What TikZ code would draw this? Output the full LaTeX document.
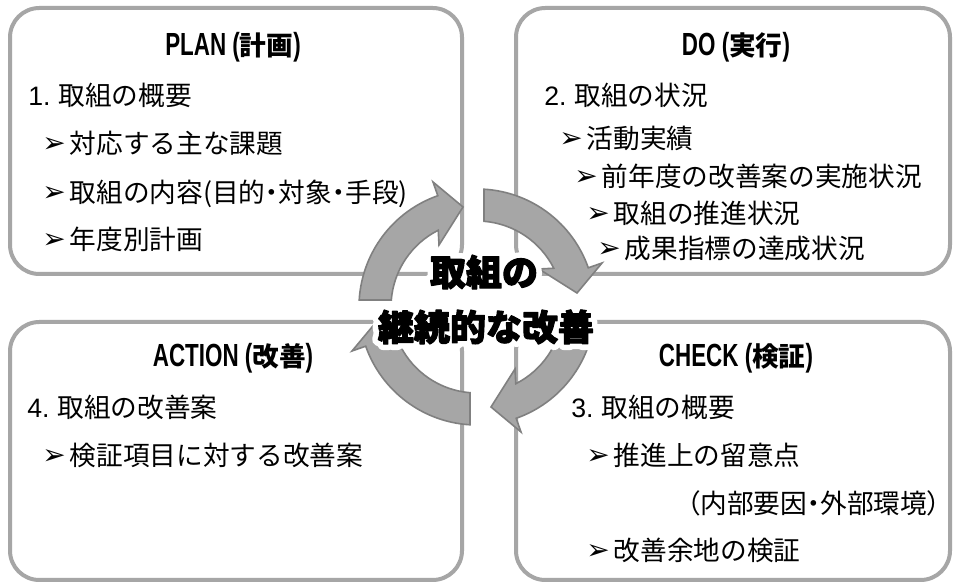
\documentclass[tikz,border=0pt]{standalone}
\usepackage{fontspec}
\setmainfont{Liberation Sans}
\newfontfamily\jp{Noto Sans CJK JP}
\newfontfamily\jpp{Noto Sans CJK JP}[RawFeature=+palt]
\newfontfamily\ttl{Liberation Sans}[FakeStretch=0.7]
\newfontfamily\symf{DejaVu Sans}
\newfontfamily\glowf{Noto Sans CJK JP}[BoldFeatures={FakeBold=34}]
\newfontfamily\heavyf{Noto Sans CJK JP}[BoldFeatures={FakeBold=3}]
\definecolor{boxgray}{RGB}{166,166,166}
\definecolor{arrfill}{RGB}{166,166,166}
\definecolor{arredge}{RGB}{128,128,128}
\newcommand\blt{\raisebox{0.5pt}{\symf\fontsize{21}{21}\selectfont ➢}\hspace{3pt}}
\newcommand\ttlfont{\fontsize{24}{28}\selectfont\bfseries}
\newcommand\ttljp[1]{{\jp\fontsize{20}{24}\selectfont #1}}
\newcommand\glowtxt[1]{\makebox[0pt][l]{\color{white}\glowf\bfseries #1}{\heavyf\bfseries #1}}
\begin{document}
\begin{tikzpicture}[x=0.75pt, y=-0.75pt,
  box/.style={draw=boxgray, line width=3pt, rounded corners=22pt, fill=white},
  arrowshape/.style={fill=arrfill, draw=arredge, line width=1.2pt, line join=miter},
  title/.style={inner sep=0pt, font=\ttlfont},
  item/.style={anchor=west, inner sep=0pt, font=\jp\fontsize{20}{24}\selectfont, text height=17.6pt, text depth=2.4pt},
  ctext/.style={inner sep=0pt, line join=round, line cap=round, font=\fontsize{27}{30}\selectfont}]
\useasboundingbox (0,0) rectangle (954,584);
\fill[white] (0,0) rectangle (954,584);
% boxes
\draw[box] (10,8) rectangle (462,274);
\draw[box] (516,8) rectangle (950,274);
\draw[box] (10,322) rectangle (462,580);
\draw[box] (516,322) rectangle (950,580);
% circular arrows
\foreach \k in {0,1,2,3} {
  \begin{scope}[shift={(477,307)}, rotate=-90*\k]
    \path[arrowshape] (183.4:118) arc[start angle=183.4, end angle=250.6, radius=118]
      -- (-44,-125) -- (-14,-100) -- (-38,-62) -- (243.2:86)
      arc[start angle=243.2, end angle=184.7, radius=86] -- cycle;
  \end{scope}
}
% PLAN
\node[title] (tplan) at (233,47) {\ttl PLAN (\ttljp{計画})};
\node[item] (p0) at (28,95) {{\rmfamily 1.}\hspace{6pt}取組の概要};
\node[item] (p1) at (42,143) {\blt 対応する主な課題};
\node[item] (p2) at (42,192) {\blt 取組の内容{\jpp (目的・対象・手段)}};
\node[item] (p3) at (42,239) {\blt 年度別計画};
% DO
\node[title] (tdo) at (736,47) {\ttl DO (\ttljp{実行})};
\node[item] (d0) at (544,95) {{\rmfamily 2.}\hspace{6pt}取組の状況};
\node[item] (d1) at (559,138) {\blt 活動実績};
\node[item] (d2) at (574,176) {\blt 前年度の改善案の実施状況};
\node[item] (d3) at (586,213) {\blt 取組の推進状況};
\node[item] (d4) at (597,248) {\blt 成果指標の達成状況};
% ACTION
\node[title] (tact) at (233,358) {\ttl ACTION (\ttljp{改善})};
\node[item] (a0) at (27,407) {{\rmfamily 4.}\hspace{6pt}取組の改善案};
\node[item] (a1) at (42,455) {\blt 検証項目に対する改善案};
% CHECK
\node[title] (tchk) at (736,358) {\ttl CHECK (\ttljp{検証})};
\node[item] (c0) at (571,407) {{\rmfamily 3.}\hspace{6pt}取組の概要};
\node[item] (c1) at (586,455) {\blt 推進上の留意点};
\node[item] (c2) at (687,503) {\jpp （内部要因・外部環境）};
\node[item] (c3) at (586,550) {\blt 改善余地の検証};
% centre
\node[ctext] (ct1) at (484,272) {\glowtxt{取組の}};
\node[ctext] (ct2) at (486,327) {\glowtxt{継続的な改善}};
\end{tikzpicture}
\end{document}
